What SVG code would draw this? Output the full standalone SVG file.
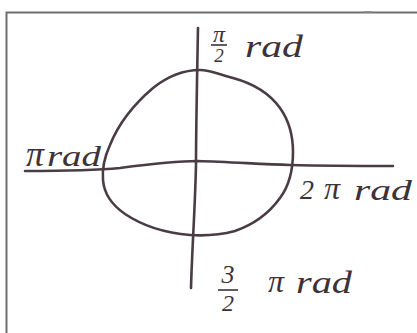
<svg xmlns="http://www.w3.org/2000/svg" width="417" height="333" viewBox="0 0 417 333">
<style>
.ink{fill:none;stroke:#4a3c45;stroke-width:2.6;stroke-linecap:round;stroke-linejoin:round}
.frame{fill:none;stroke:#6e6e6e;stroke-width:2}
.lbl{font-family:"Liberation Serif",serif;font-style:italic;fill:#3d3238}
.bar{stroke:#3d3238;stroke-width:1.6}
</style>
<rect width="417" height="333" fill="#ffffff"/>
<path class="frame" d="M6.5,333 V12.5 H417"/>
<line x1="364" y1="12" x2="372" y2="12" stroke="#888" stroke-width="1.5"/>
<g id="connectors">
<path id="axis-h" class="ink" d="M25,171 C60,171 100,170 120,168 C150,164 175,161 198,161 C230,162 260,164 290,165 C330,166 370,166 393,166"/>
<path id="axis-v" class="ink" d="M198,28 C197,80 196,130 196,165 C195,210 192,250 191,288"/>
<path id="circle" class="ink" d="M200,70 C210,70 215,73 233,78 C255,84 270,94 280,108 C290,122 293,138 293,152 C293,170 289,186 280,198 C270,212 255,224 235,231 C220,235 205,236 190,235 C165,233 143,226 125,214 C112,205 104,193 103,180 C102,168 104,158 110,145 C118,125 133,105 153,88 C168,76 185,70 200,70 Z"/>
</g>
<g id="label-top">
<text class="lbl" x="219" y="42" font-size="24" text-anchor="middle">π</text>
<line class="bar" x1="211" y1="45" x2="227" y2="45"/>
<text class="lbl" x="219" y="62" font-size="19" text-anchor="middle">2</text>
<text class="lbl" x="245" y="57" font-size="32" textLength="58" lengthAdjust="spacingAndGlyphs">rad</text>
</g>
<g id="label-left">
<text class="lbl" x="26" y="166" font-size="36">π</text>
<text class="lbl" x="47" y="166" font-size="30" textLength="54" lengthAdjust="spacingAndGlyphs">rad</text>
</g>
<g id="label-right">
<text class="lbl" x="300" y="199" font-size="28">2</text>
<text class="lbl" x="324" y="199" font-size="32">π</text>
<text class="lbl" x="354" y="200" font-size="30" textLength="58" lengthAdjust="spacingAndGlyphs">rad</text>
</g>
<g id="label-bottom">
<text class="lbl" x="228" y="283" font-size="26" text-anchor="middle">3</text>
<line class="bar" x1="218" y1="290" x2="238" y2="290"/>
<text class="lbl" x="228" y="311" font-size="24" text-anchor="middle">2</text>
<text class="lbl" x="268" y="292" font-size="32">π</text>
<text class="lbl" x="296" y="293" font-size="32" textLength="56" lengthAdjust="spacingAndGlyphs">rad</text>
</g>
</svg>
